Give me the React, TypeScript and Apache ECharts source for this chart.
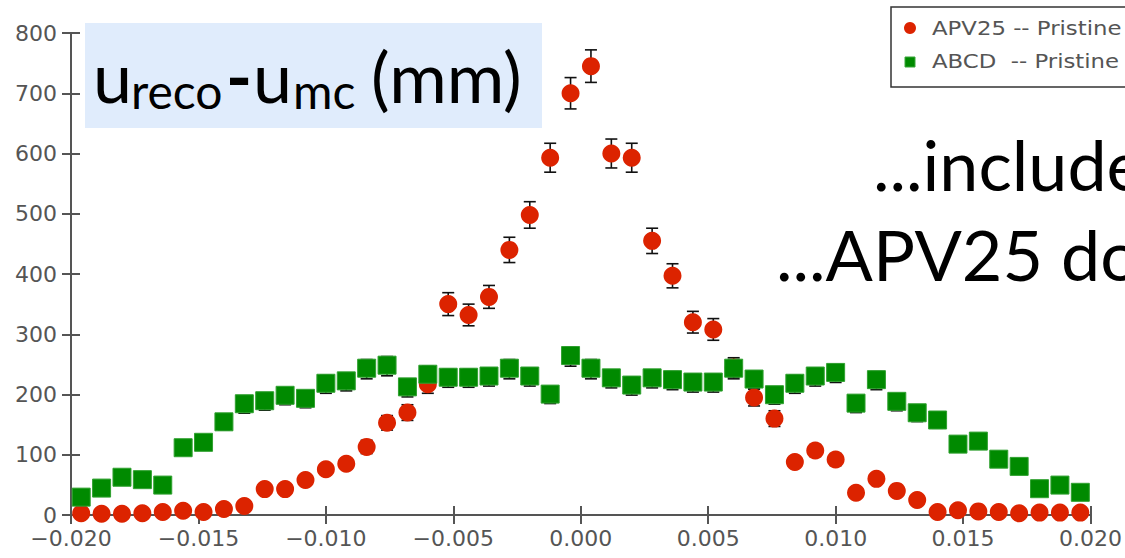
import React, { useEffect, useRef } from "react";
import * as echarts from "echarts";

// Bin centres (mm) of the histogram
const binCenters = [
  -0.0196, -0.0188, -0.018, -0.0172, -0.0164, -0.0156, -0.0148, -0.014, -0.0132, -0.0124,
  -0.0116, -0.0108, -0.01, -0.0092, -0.0084, -0.0076, -0.0068, -0.006, -0.0052, -0.0044,
  -0.0036, -0.0028, -0.002, -0.0012, -0.0004, 0.0004, 0.0012, 0.002, 0.0028, 0.0036,
  0.0044, 0.0052, 0.006, 0.0068, 0.0076, 0.0084, 0.0092, 0.01, 0.0108, 0.0116,
  0.0124, 0.0132, 0.014, 0.0148, 0.0156, 0.0164, 0.0172, 0.018, 0.0188, 0.0196,
];

// APV25 -- Pristine
const apv25Counts = [
  3, 2, 2, 3, 5, 7, 5, 10, 15, 43,
  43, 58, 76, 85, 113, 153, 170, 217, 350, 332,
  362, 440, 498, 593, 700, 745, 600, 593, 455, 397,
  320, 308, 245, 195, 160, 88, 107, 92, 37, 60,
  40, 25, 5, 8, 6, 5, 3, 4, 4, 4,
];
const apv25Errors = [
  2, 1, 1, 2, 2, 3, 2, 3, 4, 7,
  7, 8, 9, 9, 11, 12, 13, 15, 19, 18,
  19, 21, 22, 24, 26, 27, 24, 24, 21, 20,
  18, 18, 16, 14, 13, 9, 10, 10, 6, 8,
  6, 5, 2, 3, 2, 2, 2, 2, 2, 2,
];

// ABCD -- Pristine
const abcdCounts = [
  28, 43, 61, 57, 48, 110, 119, 153, 183, 188,
  197, 192, 217, 221, 242, 247, 211, 232, 227, 227,
  229, 242, 229, 199, 263, 242, 226, 214, 226, 223,
  219, 219, 242, 224, 198, 217, 229, 235, 184, 223,
  187, 168, 156, 116, 121, 91, 79, 42, 48, 36,
];
const abcdErrors = [
  5, 7, 8, 8, 7, 10, 11, 12, 14, 14,
  14, 14, 15, 15, 16, 16, 15, 15, 15, 15,
  15, 16, 15, 14, 16, 16, 15, 15, 15, 15,
  15, 15, 16, 15, 14, 15, 15, 15, 14, 15,
  14, 13, 12, 11, 11, 10, 9, 6, 7, 6,
];

const seriesNames = ["APV25 -- Pristine", "ABCD  -- Pristine"];
const legendLabels = ["APV25 -- Pristine", "ABCD  -- Pristine"];

const RED = "#dc2300";
const GREEN = "#008a00";
const AXIS = "#555555";

const fmtX = (v: number) => {
  if (Math.abs(v) < 1e-9) return "0.000";
  return v.toFixed(3).replace("-", "\u2212");
};

const errorBarSeries = (counts: number[], errs: number[], z: number) => ({
  type: "custom",
  z,
  silent: true,
  xAxisIndex: 0,
  yAxisIndex: 0,
  data: binCenters.map((x, i) => [x, counts[i], errs[i]]),
  encode: { x: 0, y: 1 },
  renderItem: (params: any, api: any) => {
    const x = api.value(0);
    const y = api.value(1);
    const e = api.value(2);
    const top = api.coord([x, y + e]);
    const bot = api.coord([x, y - e]);
    const hw = 6;
    const st = { stroke: "#111111", lineWidth: 1.6 };
    return {
      type: "group",
      children: [
        { type: "line", shape: { x1: top[0], y1: top[1], x2: bot[0], y2: bot[1] }, style: st },
        { type: "line", shape: { x1: top[0] - hw, y1: top[1], x2: top[0] + hw, y2: top[1] }, style: st },
        { type: "line", shape: { x1: bot[0] - hw, y1: bot[1], x2: bot[0] + hw, y2: bot[1] }, style: st },
      ],
    };
  },
});

export default function App() {
  const ref = useRef<HTMLDivElement>(null);

  useEffect(() => {
    if (!ref.current) return;
    const chart = echarts.init(ref.current, undefined, { renderer: "svg" });
    const tickLabel = { fontSize: 22, color: AXIS, fontFamily: "DejaVu Sans" };
    const lato = "Lato";
    const option: any = {
      animation: false,
      backgroundColor: "#ffffff",
      grid: { left: 71, right: 33, top: 33, bottom: 43, containLabel: false },
      xAxis: [
        {
          type: "value",
          min: -0.02,
          max: 0.02,
          interval: 0.005,
          axisLine: { show: true, onZero: false, lineStyle: { color: AXIS, width: 2 } },
          axisTick: { show: true, inside: false, length: 9, lineStyle: { color: AXIS, width: 2 } },
          axisLabel: { ...tickLabel, margin: 12, formatter: fmtX },
          splitLine: { show: false },
        },
        {
          type: "value",
          position: "bottom",
          min: -0.02,
          max: 0.02,
          interval: 0.005,
          axisLine: { show: false, onZero: false },
          axisTick: { show: true, inside: true, length: 9, lineStyle: { color: AXIS, width: 2 } },
          axisLabel: { show: false },
          splitLine: { show: false },
        },
      ],
      yAxis: [
        {
          type: "value",
          min: 0,
          max: 800,
          interval: 100,
          axisLine: { show: true, onZero: false, lineStyle: { color: AXIS, width: 2 } },
          axisTick: { show: true, inside: false, length: 9, lineStyle: { color: AXIS, width: 2 } },
          axisLabel: { ...tickLabel, margin: 14 },
          splitLine: { show: false },
        },
        {
          type: "value",
          position: "left",
          min: 0,
          max: 800,
          interval: 100,
          axisLine: { show: false, onZero: false },
          axisTick: { show: true, inside: true, length: 9, lineStyle: { color: AXIS, width: 2 } },
          axisLabel: { show: false },
          splitLine: { show: false },
        },
      ],
      series: [
        errorBarSeries(apv25Counts, apv25Errors, 2),
        errorBarSeries(abcdCounts, abcdErrors, 2),
        {
          name: seriesNames[0],
          type: "scatter",
          z: 3,
          symbol: "circle",
          symbolSize: 18,
          itemStyle: { color: RED, opacity: 1 },
          data: binCenters.map((x, i) => [x, apv25Counts[i]]),
        },
        {
          name: seriesNames[1],
          type: "scatter",
          z: 4,
          symbol: "rect",
          symbolSize: 18,
          symbolOffset: [0, -1],
          itemStyle: { color: GREEN, opacity: 1, borderColor: "#2fa02f", borderWidth: 1 },
          data: binCenters.map((x, i) => [x, abcdCounts[i]]),
        },
      ],
      graphic: [
        // title box
        { type: "rect", z: 10, shape: { x: 85, y: 23, width: 457, height: 105 }, style: { fill: "#e0ecfc" } },
        { type: "text", z: 11, x: 93, y: 76, style: { text: "u", font: `70px ${lato}`, fill: "#000", verticalAlign: "middle" } },
        { type: "text", z: 11, x: 131, y: 90, style: { text: "reco", font: `48px ${lato}`, fill: "#000", verticalAlign: "middle" } },
        { type: "text", z: 11, x: 226, y: 76, style: { text: "-", font: `bold 70px ${lato}`, fill: "#000", verticalAlign: "middle" } },
        { type: "text", z: 11, x: 253, y: 76, style: { text: "u", font: `70px ${lato}`, fill: "#000", verticalAlign: "middle" } },
        { type: "text", z: 11, x: 293, y: 90, style: { text: "mc", font: `48px ${lato}`, fill: "#000", verticalAlign: "middle" } },
        { type: "text", z: 11, x: 371, y: 76, style: { text: "(mm)", font: `70px ${lato}`, fill: "#000", verticalAlign: "middle" } },
        // legend
        { type: "rect", z: 10, shape: { x: 891, y: 7, width: 260, height: 80 }, style: { fill: "#ffffff", stroke: "#333333", lineWidth: 1.5 } },
        { type: "circle", z: 11, shape: { cx: 910, cy: 28, r: 6 }, style: { fill: RED } },
        { type: "rect", z: 11, shape: { x: 905, y: 57, width: 10, height: 10 }, style: { fill: GREEN, stroke: "#3aa63a", lineWidth: 1 } },
        { type: "text", z: 11, x: 932, y: 29, scaleX: 1.2, style: { text: legendLabels[0], font: "19px 'DejaVu Sans'", fill: "#555", verticalAlign: "middle" } },
        { type: "text", z: 11, x: 932, y: 62, scaleX: 1.2, style: { text: legendLabels[1], font: "19px 'DejaVu Sans'", fill: "#555", verticalAlign: "middle" } },
        // slide text
        { type: "text", z: 11, x: 873, y: 164, style: { text: "...include", font: `70px ${lato}`, fill: "#000", verticalAlign: "middle" } },
        { type: "text", z: 11, x: 776, y: 254, style: { text: "...APV25 do", font: `70px ${lato}`, fill: "#000", verticalAlign: "middle" } },
      ],
    };
    chart.setOption(option);
    return () => chart.dispose();
  }, []);

  return (
    <div
      ref={ref}
      style={{ position: "absolute", left: 0, top: 0, width: 1125, height: 558, background: "#fff" }}
    />
  );
}
